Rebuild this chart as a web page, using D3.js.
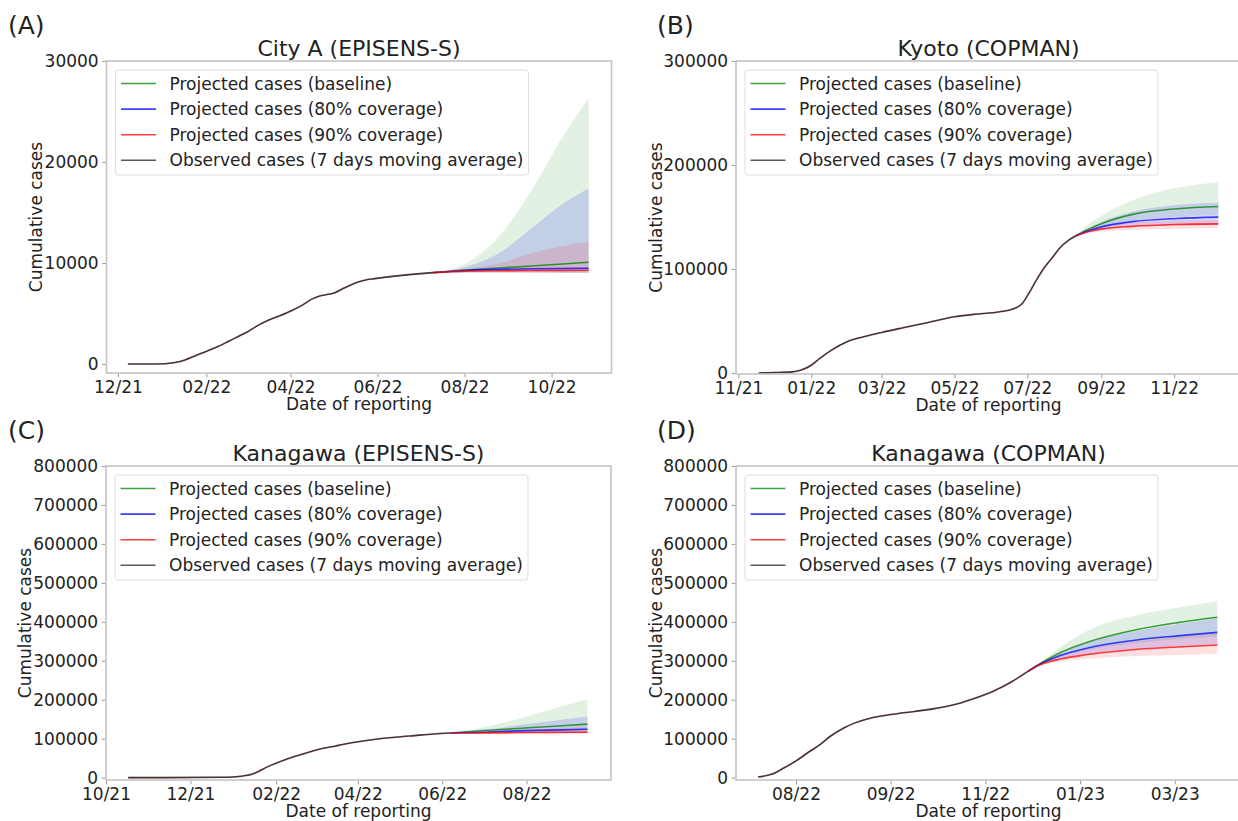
<!DOCTYPE html>
<html>
<head>
<meta charset="utf-8">
<script src="https://cdn.jsdelivr.net/npm/d3@7"></script>
<style>
  body { margin: 0; background: #fff; }
  svg text { font-family: "DejaVu Sans", sans-serif; fill: #222; }
</style>
</head>
<body>
<script>
// ---- data ----
let legendLabels = ["Projected cases (baseline)", "Projected cases (80% coverage)",
                    "Projected cases (90% coverage)", "Observed cases (7 days moving average)"];

// (A) City A (EPISENS-S)
let aObsDates = ["2021-12-08","2021-12-20","2022-01-03","2022-01-10","2022-01-17","2022-01-24","2022-01-31",
                 "2022-02-08","2022-02-16","2022-02-23","2022-03-02","2022-03-09","2022-03-16","2022-03-24",
                 "2022-04-02","2022-04-09","2022-04-15","2022-04-22","2022-05-02","2022-05-09","2022-05-16",
                 "2022-05-23","2022-05-30","2022-06-13","2022-06-27","2022-07-10"];
let aObs = [0, 0, 30, 150, 400, 800, 1200, 1650, 2200, 2700, 3200, 3800, 4300, 4750,
            5300, 5800, 6350, 6750, 7050, 7550, 8000, 8300, 8450, 8700, 8900, 9050];
let aProjDates = ["2022-07-10","2022-08-02","2022-08-25","2022-09-17","2022-10-06","2022-10-27"];
let aBase   = [9050, 9300, 9500, 9700, 9880, 10070];
let aBaseLo = [9050, 9060, 9060, 9050, 9040, 9040];
let aBaseHi = [9050, 9970, 12600, 17230, 21850, 26300];
let a80     = [9050, 9260, 9370, 9430, 9460, 9480];
let a80Lo   = [9050, 9060, 9060, 9050, 9040, 9040];
let a80Hi   = [9050, 9640, 10960, 13430, 15580, 17400];
let a90     = [9050, 9200, 9240, 9260, 9270, 9280];
let a90Lo   = [9050, 9060, 9050, 9045, 9040, 9040];
let a90Hi   = [9050, 9400, 9970, 10960, 11610, 12100];
let aYTicks = [0, 10000, 20000, 30000];
let aXTicks = ["2021-12-01","2022-02-01","2022-04-01","2022-06-01","2022-08-01","2022-10-01"];

// (B) Kyoto (COPMAN)
let bObsDates = ["2021-11-18","2021-12-01","2021-12-16","2021-12-23","2022-01-01","2022-01-08","2022-01-18",
                 "2022-01-31","2022-02-14","2022-03-01","2022-03-19","2022-04-08","2022-05-01","2022-05-17",
                 "2022-06-08","2022-06-19","2022-06-27","2022-07-02","2022-07-09","2022-07-15","2022-07-22",
                 "2022-07-28","2022-08-05","2022-08-10"];
let bObs = [0, 300, 1000, 2500, 7400, 13800, 21900, 30000, 34800, 39000, 43500, 48300, 54000, 56300,
            58800, 61500, 67000, 76000, 90000, 101000, 111000, 120000, 128000, 131500];
let bProjDates = ["2022-08-10","2022-08-20","2022-09-01","2022-09-27","2022-11-03","2022-12-08"];
let bBase   = [131500, 137500, 143500, 152500, 157900, 160100];
let bBaseLo = [131500, 135500, 139000, 145500, 150000, 152000];
let bBaseHi = [131500, 142000, 151000, 166000, 177800, 183300];
let b80     = [131500, 136200, 140500, 145500, 148600, 149900];
let b80Lo   = [131500, 134800, 137500, 141000, 142000, 142500];
let b80Hi   = [131500, 138500, 145500, 155000, 161500, 164000];
let b90     = [131500, 135500, 138300, 141000, 142800, 143400];
let b90Lo   = [131500, 134300, 136000, 137800, 138800, 139300];
let b90Hi   = [131500, 136800, 140500, 144500, 146500, 147300];
let bYTicks = [0, 100000, 200000, 300000];
let bXTicks = ["2021-11-01","2022-01-01","2022-03-01","2022-05-01","2022-07-01","2022-09-01","2022-11-01"];

// (C) Kanagawa (EPISENS-S)
let cObsDates = ["2021-10-17","2021-12-23","2022-01-03","2022-01-15","2022-01-26","2022-02-07","2022-02-18",
                 "2022-03-02","2022-03-16","2022-03-30","2022-04-14","2022-04-28","2022-05-12","2022-05-26",
                 "2022-06-07"];
let cObs = [0, 1000, 2500, 9400, 28300, 45500, 58300, 71000, 81500, 91000, 98600, 103800, 108000, 112000, 114500];
let cProjDates = ["2022-06-07","2022-07-01","2022-07-25","2022-08-18","2022-09-14"];
let cBase   = [114500, 120900, 126000, 131200, 137300];
let cBaseLo = [114500, 113500, 113500, 113800, 114000];
let cBaseHi = [114500, 129600, 150200, 174200, 201600];
let c80     = [114500, 116700, 120100, 121900, 124400];
let c80Lo   = [114500, 113500, 113500, 113800, 114000];
let c80Hi   = [114500, 120900, 134700, 145000, 157000];
let c90     = [114500, 115000, 115900, 116300, 116700];
let c90Lo   = [114500, 113500, 113500, 113800, 114000];
let c90Hi   = [114500, 117600, 121900, 126000, 131200];
let cYTicks = [0, 100000, 200000, 300000, 400000, 500000, 600000, 700000, 800000];
let cXTicks = ["2021-10-01","2021-12-01","2022-02-01","2022-04-01","2022-06-01","2022-08-01"];

// (D) Kanagawa (COPMAN)
let dObsDates = ["2022-07-08","2022-07-17","2022-07-24","2022-08-01","2022-08-08","2022-08-16","2022-08-23",
                 "2022-08-31","2022-09-07","2022-09-17","2022-09-30","2022-10-15","2022-10-27","2022-11-09",
                 "2022-11-21","2022-12-04","2022-12-16","2022-12-26"];
let dObs = [1700, 9400, 24000, 42900, 62600, 84000, 107000, 127000, 140000, 152700, 162000, 170000,
            176500, 187000, 202000, 222000, 247000, 272700];
let dProjDates = ["2022-12-26","2022-12-31","2023-01-16","2023-02-02","2023-03-06","2023-03-31","2023-04-25"];
let dBase   = [272700, 286000, 322000, 348000, 381000, 398000, 411600];
let dBaseLo = [272700, 285000, 312000, 328000, 346000, 355000, 363000];
let dBaseHi = [272700, 287000, 336000, 378000, 418000, 437000, 452700];
let d80     = [272700, 285500, 314000, 333000, 354000, 364000, 373000];
let d80Lo   = [272700, 284500, 306000, 318000, 331000, 337000, 343000];
let d80Hi   = [272700, 286000, 320000, 347000, 378000, 394000, 409000];
let d90     = [272700, 285000, 305000, 316000, 329500, 335400, 340600];
let d90Lo   = [272700, 284000, 299000, 305500, 312500, 315000, 317400];
let d90Hi   = [272700, 285500, 312000, 330000, 351000, 361000, 370000];
let dYTicks = [0, 100000, 200000, 300000, 400000, 500000, 600000, 700000, 800000];
let dXTicks = ["2022-08-01","2022-09-30","2022-11-29","2023-01-28","2023-03-29"];

// ---- layout ----
let width = 1238;
let height = 821;
let svg = d3.select("body").append("svg")
            .attr("width", width)
            .attr("height", height);

let parse = d3.utcParse("%Y-%m-%d");
let monthFmt = d3.utcFormat("%m/%y");
let plotW = 505;
let fontSize = 17;
let lineColors = ["green", "blue", "red", "black"];
let bandAlpha = [0.11, 0.14, 0.12];
let lineAlpha = 0.75;

let panels = [
  { letter: "(A)", title: "City A (EPISENS-S)", left: 106.5, top: 61, h: 312, ylabOff: 65,
    xDomain: ["2021-11-23", "2022-11-12"], yDomain: [-890, 30000], yTicks: aYTicks, xTicks: aXTicks,
    obsDates: aObsDates, obs: aObs, projDates: aProjDates,
    proj: [[aBase, aBaseLo, aBaseHi], [a80, a80Lo, a80Hi], [a90, a90Lo, a90Hi]] },
  { letter: "(B)", title: "Kyoto (COPMAN)", left: 736, top: 61, h: 313, ylabOff: 74,
    xDomain: ["2021-10-30", "2022-12-27"], yDomain: [-1000, 300000], yTicks: bYTicks, xTicks: bXTicks,
    obsDates: bObsDates, obs: bObs, projDates: bProjDates,
    proj: [[bBase, bBaseLo, bBaseHi], [b80, b80Lo, b80Hi], [b90, b90Lo, b90Hi]] },
  { letter: "(C)", title: "Kanagawa (EPISENS-S)", left: 106, top: 466, h: 314, ylabOff: 75,
    xDomain: ["2021-10-01", "2022-10-01"], yDomain: [-6000, 800000], yTicks: cYTicks, xTicks: cXTicks,
    obsDates: cObsDates, obs: cObs, projDates: cProjDates,
    proj: [[cBase, cBaseLo, cBaseHi], [c80, c80Lo, c80Hi], [c90, c90Lo, c90Hi]] },
  { letter: "(D)", title: "Kanagawa (COPMAN)", left: 736, top: 466, h: 314, ylabOff: 74,
    xDomain: ["2022-06-24", "2023-05-10"], yDomain: [-6000, 800000], yTicks: dYTicks, xTicks: dXTicks,
    obsDates: dObsDates, obs: dObs, projDates: dProjDates,
    proj: [[dBase, dBaseLo, dBaseHi], [d80, d80Lo, d80Hi], [d90, d90Lo, d90Hi]] }
];

function styleAxis(axisG) {
  axisG.attr("font-family", null).attr("font-size", null);
  axisG.select(".domain").remove();
  axisG.selectAll(".tick line").attr("stroke", "#999");
  axisG.selectAll(".tick text").attr("font-size", fontSize).style("fill", "#222");
}

function drawPanel(p, i) {
  let g = svg.append("g");
  let x = d3.scaleUtc().domain(p.xDomain.map(parse)).range([p.left, p.left + plotW]);
  let y = d3.scaleLinear().domain(p.yDomain).range([p.top + p.h, p.top]);

  let clipId = "clip" + i;
  svg.append("clipPath").attr("id", clipId)
     .append("rect").attr("x", p.left).attr("y", p.top).attr("width", plotW).attr("height", p.h);
  let plot = g.append("g").attr("clip-path", "url(#" + clipId + ")");

  let projDates = p.projDates.map(parse);
  let obsPts = p.obsDates.map(function(d, k) { return { t: parse(d), v: p.obs[k] }; });

  // uncertainty bands
  p.proj.forEach(function(s, k) {
    let pts = projDates.map(function(t, j) { return { t: t, lo: s[1][j], hi: s[2][j] }; });
    let area = d3.area().curve(d3.curveMonotoneX)
                 .x(function(d) { return x(d.t); })
                 .y0(function(d) { return y(d.lo); })
                 .y1(function(d) { return y(d.hi); });
    plot.append("path").datum(pts)
        .attr("d", area)
        .attr("fill", lineColors[k])
        .attr("fill-opacity", bandAlpha[k]);
  });

  let line = d3.line().curve(d3.curveMonotoneX)
               .x(function(d) { return x(d.t); })
               .y(function(d) { return y(d.v); });

  // projected medians
  p.proj.forEach(function(s, k) {
    let pts = projDates.map(function(t, j) { return { t: t, v: s[0][j] }; });
    plot.append("path").datum(pts)
        .attr("d", line)
        .attr("fill", "none")
        .attr("stroke", lineColors[k])
        .attr("stroke-opacity", lineAlpha)
        .attr("stroke-width", 1.6);
  });

  // fitted (red) under observed (black)
  plot.append("path").datum(obsPts)
      .attr("d", line).attr("fill", "none")
      .attr("stroke", "red").attr("stroke-opacity", 0.25).attr("stroke-width", 1.6);
  plot.append("path").datum(obsPts)
      .attr("d", line).attr("fill", "none")
      .attr("stroke", "black").attr("stroke-opacity", 0.72).attr("stroke-width", 1.6);

  // frame
  g.append("rect")
   .attr("x", p.left).attr("y", p.top).attr("width", plotW).attr("height", p.h)
   .attr("fill", "none").attr("stroke", "#c4c4c4").attr("stroke-width", 1.6);

  // axes
  let yAxis = g.append("g").attr("transform", "translate(" + (p.left - 0.8) + ",0)")
               .call(d3.axisLeft(y).tickValues(p.yTicks).tickSize(3.5).tickPadding(3.5)
                       .tickFormat(d3.format("d")));
  styleAxis(yAxis);
  let xAxis = g.append("g").attr("transform", "translate(0," + (p.top + p.h + 0.8) + ")")
               .call(d3.axisBottom(x).tickValues(p.xTicks.map(parse)).tickSize(3.5).tickPadding(3.5)
                       .tickFormat(monthFmt));
  styleAxis(xAxis);

  // labels
  let cx = p.left + plotW / 2;
  let cy = p.top + p.h / 2;
  g.append("text").attr("x", cx).attr("y", p.top - 5)
   .attr("text-anchor", "middle").attr("font-size", 22).text(p.title);
  g.append("text").attr("x", cx).attr("y", p.top + p.h + 37)
   .attr("text-anchor", "middle").attr("font-size", fontSize).text("Date of reporting");
  g.append("text").attr("transform", "translate(" + (p.left - p.ylabOff) + "," + cy + ") rotate(-90)")
   .attr("text-anchor", "middle").attr("font-size", fontSize).text("Cumulative cases");
  g.append("text").attr("x", p.left < 400 ? 8 : 657).attr("y", p.top - 27)
   .attr("font-size", 25).text(p.letter);

  // legend
  let lx = p.left + 9;
  let ly = p.top + 9;
  let legend = g.append("g").attr("transform", "translate(" + lx + "," + ly + ")");
  legend.append("rect").attr("width", 413).attr("height", 105).attr("rx", 3)
        .attr("fill", "white").attr("fill-opacity", 0.85)
        .attr("stroke", "#dedede").attr("stroke-width", 1);
  legendLabels.forEach(function(lab, k) {
    let ry = 13.5 + k * 25.6;
    legend.append("line").attr("x1", 5.5).attr("x2", 40.5).attr("y1", ry).attr("y2", ry)
          .attr("stroke", lineColors[k]).attr("stroke-opacity", k === 3 ? 0.65 : lineAlpha)
          .attr("stroke-width", 1.6);
    legend.append("text").attr("x", 54).attr("y", ry).attr("dy", "0.36em")
          .attr("font-size", fontSize).text(lab);
  });
}

panels.forEach(drawPanel);
</script>
</body>
</html>
